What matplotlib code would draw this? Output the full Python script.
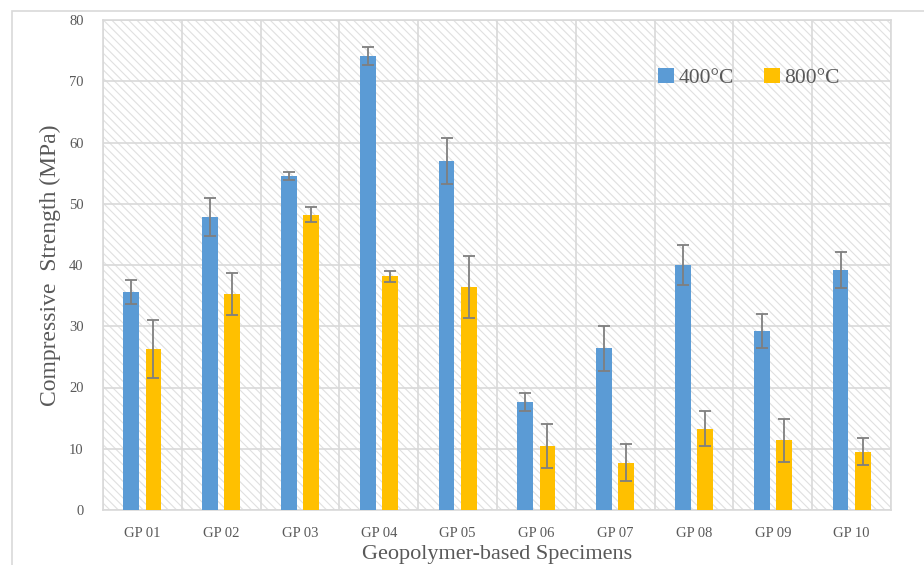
import numpy as np
import matplotlib.pyplot as plt
from matplotlib.patches import Rectangle

# Compressive strength after exposure (MPa)
specimens = ['GP 01', 'GP 02', 'GP 03', 'GP 04', 'GP 05',
             'GP 06', 'GP 07', 'GP 08', 'GP 09', 'GP 10']
strength_400 = [35.6, 47.8, 54.5, 74.1, 57.0, 17.6, 26.4, 40.0, 29.2, 39.2]
err_400 = [2.0, 3.1, 0.7, 1.5, 3.8, 1.5, 3.7, 3.2, 2.8, 3.0]
strength_800 = [26.3, 35.3, 48.2, 38.2, 36.4, 10.5, 7.7, 13.3, 11.4, 9.5]
err_800 = [4.7, 3.4, 1.2, 0.9, 5.1, 3.6, 3.0, 2.9, 3.5, 2.2]

plt.rcParams['font.family'] = ['Liberation Serif', 'DejaVu Serif']
plt.rcParams['hatch.linewidth'] = 0.8
text_col = '#595959'
grid_col = '#d9d9d9'

fig = plt.figure(figsize=(9.24, 5.65), dpi=100)
ax = fig.add_axes([103 / 924, 1 - 510 / 565, 788 / 924, 490 / 565])

# outer chart border
fig.patches.append(Rectangle((12 / 924, -0.1), 1.2, 1 - 11 / 565 + 0.1,
                             transform=fig.transFigure, fill=False,
                             edgecolor=grid_col, lw=1.2))

# hatched plot background
ax.add_patch(Rectangle((0, 0), 1, 1, transform=ax.transAxes, facecolor='white',
                       edgecolor='#e0e0e0', hatch='\\\\\\\\', lw=0, zorder=0))

x = np.arange(len(specimens))
w = 0.2
off = 0.14
ekw = dict(ecolor='#7f7f7f', elinewidth=1.3, capsize=4.5, capthick=1.3)
ax.bar(x - off, strength_400, w, yerr=err_400, color='#5b9bd5',
       label='400°C', zorder=3, error_kw=ekw)
ax.bar(x + off, strength_800, w, yerr=err_800, color='#ffc000',
       label='800°C', zorder=3, error_kw=ekw)

ax.set_xlim(-0.5, len(specimens) - 0.5)
ax.set_ylim(0, 80)
ax.set_yticks(np.arange(0, 81, 10))
ax.set_xticks(x)
ax.set_xticklabels(specimens)
ax.set_xticks(np.arange(-0.5, len(specimens)), minor=True)
ax.tick_params(axis='both', which='both', length=0, colors=text_col, labelsize=10.5)
ax.tick_params(axis='x', pad=12)
ax.tick_params(axis='y', pad=14)
ax.grid(True, axis='y', color=grid_col, lw=1.2, zorder=1)
ax.grid(True, axis='x', which='minor', color=grid_col, lw=1.2, zorder=1)
ax.set_axisbelow(True)
for s in ax.spines.values():
    s.set_color(grid_col)
    s.set_linewidth(1.2)

ax.set_ylabel('Compressive  Strength (MPa)', fontsize=17, color=text_col, labelpad=6)
ax.set_xlabel('Geopolymer-based Specimens', fontsize=16, color=text_col, labelpad=4)

leg = ax.legend(loc='center', bbox_to_anchor=(0.82, 0.882), ncol=2, frameon=False,
                fontsize=15.5, handlelength=0.75, handleheight=0.75, handletextpad=0.2,
                columnspacing=1.4, labelcolor=text_col)

fig.savefig('out.png', dpi=100)
